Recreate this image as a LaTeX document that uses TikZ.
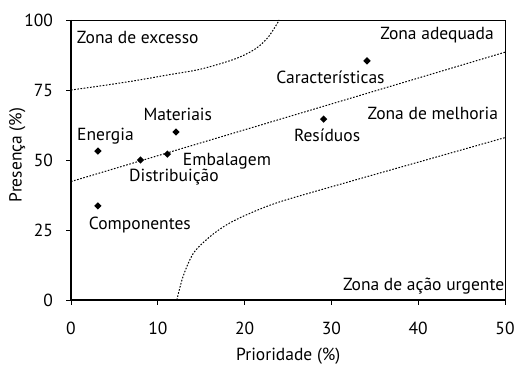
\documentclass[tikz,border=0pt]{standalone}
\usepackage{fontspec}
\setmainfont{PT Sans}
\usetikzlibrary{shapes.geometric,positioning}
\tikzset{
  pnt/.style={diamond, fill=black, inner sep=0pt, minimum size=7.5bp},
  lbl/.style={inner sep=0pt, outer sep=0pt},
  zone/.style={dash pattern=on 1.6bp off 1.6bp, line width=1bp},
  tck/.style={line width=0.9bp},
}
\def\ticklen{5bp}

\begin{document}
\begin{tikzpicture}[x=8.68bp, y=2.8bp, font=\fontsize{17.5bp}{20bp}\selectfont]
    \useasboundingbox (-71bp,-66bp) rectangle (445bp,300bp);

    %% Frame and axes
    \draw[line width=0.9bp] (0,100) -- (50,100) -- (50,0);
    \draw[line width=1.2bp] (0,100) -- (0,0) -- (50,0);
    \foreach \yv in {0,25,...,100} {
      \draw[tck] (0,\yv) -- ++(-\ticklen,0);
      \node[lbl, anchor=east] (ytick\yv) at (-2.07,\yv) {\yv};
    }
    \foreach \xv in {0,10,...,50} {
      \draw[tck] (\xv,0) -- ++(0,-\ticklen);
      \node[lbl, anchor=north] (xtick\xv) at (\xv,-7.75) {\xv};
    }
    \node[lbl, anchor=base] (xlabel) at (25.03,-21.6) {Prioridade (\%)};
    \node[lbl, anchor=base, rotate=90] (ylabel) at (-5.68,51.8) {Presença (\%)};

    %% Zone boundaries
    \draw[zone] plot[smooth] coordinates {(0,75) (3.5,76.5) (7.3,78.3) (11.2,80.4) (15,82.5) (18.9,86.1) (21.2,89.6) (22.7,93.8) (24,100)};
    \draw[zone] (0,42.3) -- (50,88.5);
    \draw[zone] plot[smooth] coordinates {(12.2,0) (12.9,8.3) (14.1,16.7) (16,22.6) (17.9,26.8) (20.2,30.4) (24.1,35.1) (32.8,42.9) (41,50.1) (50,58)};

    %% Zone names
    \node[lbl, anchor=base west] (zexc) at (0.69,91.7) {Zona de excesso};
    \node[lbl, anchor=base east] (zade) at (48.7,92.9) {Zona adequada};
    \node[lbl, anchor=base east] (zmel) at (49.2,64.5) {Zona de melhoria};
    \node[lbl, anchor=base east] (zurg) at (49.9,3.57) {Zona de ação urgente};

    %% Data points
    \node[pnt] (energia) at (3.1,53.2) {};
    \node[pnt] (materiais) at (12.1,60) {};
    \node[pnt] (distrib) at (8.0,50) {};
    \node[pnt] (embal) at (11.1,52.1) {};
    \node[pnt] (compon) at (3.1,33.6) {};
    \node[pnt] (caract) at (34.1,85.4) {};
    \node[pnt] (residuos) at (29.1,64.6) {};

    % Point labels
    \node[lbl, anchor=base] (lenergia) at (3.97,57.1) {Energia};
    \node[lbl, anchor=base] (lmateriais) at (12.3,64.0) {Materiais};
    \node[lbl, anchor=base west] (ldistrib) at (6.7,42.3) {Distribuição};
    \node[lbl, anchor=base west] (lembal) at (12.9,47.9) {Embalagem};
    \node[lbl, anchor=base west] (lcompon) at (2.07,25) {Componentes};
    \node[lbl, anchor=base] (lcaract) at (29.9,77.4) {Características};
    \node[lbl, anchor=base] (lresiduos) at (29.5,56.5) {Resíduos};

\end{tikzpicture}
\end{document}
